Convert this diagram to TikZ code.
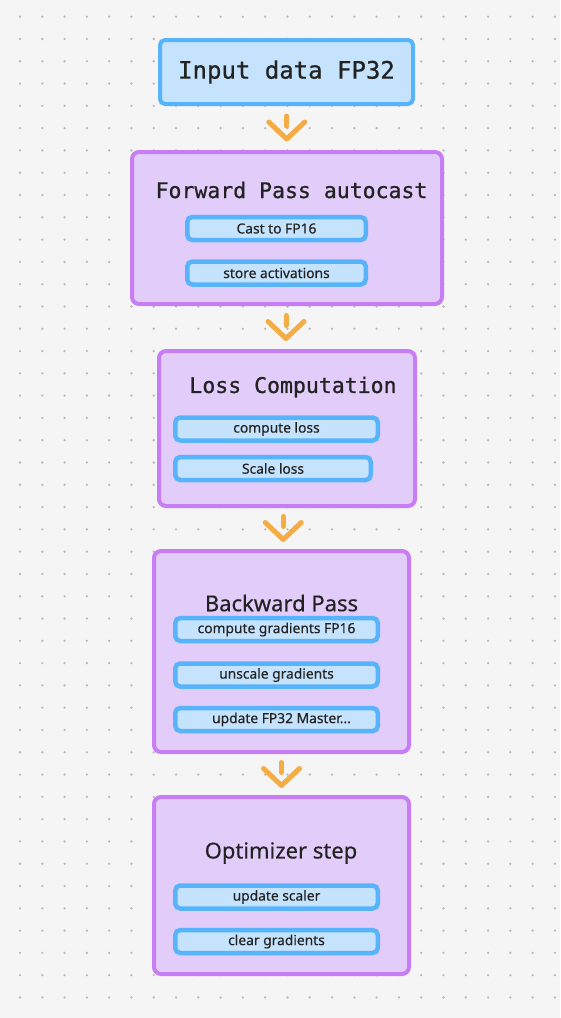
\documentclass[tikz,border=0pt]{standalone}
\usepackage{fontspec}
\setmainfont{Noto Sans}
\setmonofont{DejaVu Sans Mono}
\newfontfamily\titlemono{DejaVu Sans Mono}[FakeBold=0.8]
\newfontfamily\titlesans{Noto Sans}[FakeBold=0.3]
\usetikzlibrary{positioning, calc}

\definecolor{bgc}{HTML}{F5F5F5}
\definecolor{dotc}{HTML}{BBBBBB}
\definecolor{bluefill}{HTML}{C5E3FC}
\definecolor{blueline}{HTML}{58B4FA}
\definecolor{purplefill}{HTML}{E2CCFA}
\definecolor{purpleline}{HTML}{C77DF3}
\definecolor{arrowc}{HTML}{F4AC45}
\definecolor{textc}{HTML}{222222}

\begin{document}
\begin{tikzpicture}[
    x=1pt, y=-1pt,
    node distance=17pt and 17pt,
    every node/.style={inner sep=0pt, align=center, text=textc},
    stage/.style={draw=purpleline, fill=purplefill, line width=4pt, rounded corners=7pt},
    inputbox/.style={draw=blueline, fill=bluefill, line width=4pt, rounded corners=5pt},
    task/.style={draw=blueline, fill=bluefill, line width=4.5pt, rounded corners=5pt,
        minimum height=23pt, font=\titlesans\fontsize{13.8}{15}\selectfont},
    monotitle/.style={font=\titlemono\fontsize{21.5}{24}\selectfont},
    sanstitle/.style={font=\titlesans\fontsize{22}{25}\selectfont},
    chevline/.style={draw=arrowc, line width=5pt, line cap=round, line join=round},
    chevron/.pic={
        \draw[chevline] (-18,-6) -- (0,11) -- (18,-6);
        \draw[chevline] (0,-12) -- (0,-2);
    }
]

    % Background and dot grid
    \fill[bgc] (0,0) rectangle (560,1018);
    \useasboundingbox (0,0) rectangle (560,1018);
    \foreach \i in {0,...,24} {
        \foreach \j in {0,...,44} {
            \fill[dotc] (20+22.29*\i, 16.7+22.29*\j) circle (1.3);
        }
    }

    % Nodes
    \node[inputbox, minimum width=253pt, minimum height=64pt, font=\titlemono\fontsize{24}{28}\selectfont] (input) at (286.5,72) {Input data FP32};

    \node[stage, minimum width=310pt, minimum height=152pt] (fwd) at (287,228) {};
    \node[monotitle] (fwdtitle) at (291.5,190) {Forward Pass autocast};
    \node[task, minimum width=178.5pt] (cast) at (276.5,228.5) {Cast to FP16};
    \node[task, minimum width=178.5pt, below=of cast] (store) {store activations};

    \node[stage, minimum width=256pt, minimum height=155pt] (loss) at (287,428.5) {};
    \node[monotitle] (losstitle) at (293,387) {Loss Computation};
    \node[task, minimum width=202.5pt] (closs) at (276.5,429) {compute loss};
    \node[task, minimum width=195.5pt, below=12pt of closs.south west, anchor=north west] (sloss) {Scale loss};

    \node[stage, minimum width=255pt, minimum height=201pt] (back) at (281.5,651.5) {};
    \node[sanstitle] (backtitle) at (281.5,603) {Backward Pass};
    \node[task, minimum width=202.5pt] (cgrad) at (276.5,629.5) {compute gradients FP16};
    \node[task, minimum width=202.5pt, below=18pt of cgrad] (ugrad) {unscale gradients};
    \node[task, minimum width=202.5pt, below=of ugrad] (master) {\hspace{10pt}update FP32 Master...};

    \node[stage, minimum width=255pt, minimum height=177pt] (opt) at (281.5,885.5) {};
    \node[sanstitle] (opttitle) at (281,853) {Optimizer step};
    \node[task, minimum width=202.5pt] (uscaler) at (276.5,897) {update scaler};
    \node[task, minimum width=202.5pt, below=of uscaler] (cgrads) {clear gradients};

    % Connectors between stages
    \pic at ($(input.south)!0.5!(fwd.north)$) {chevron};
    \pic at ($(fwd.south)!0.5!(loss.north)+(-1,0)$) {chevron};
    \pic at ($(loss.south)!0.5!(back.north)+(-1,0)$) {chevron};
    \pic at ($(back.south)!0.5!(opt.north)$) {chevron};
\end{tikzpicture}
\end{document}
